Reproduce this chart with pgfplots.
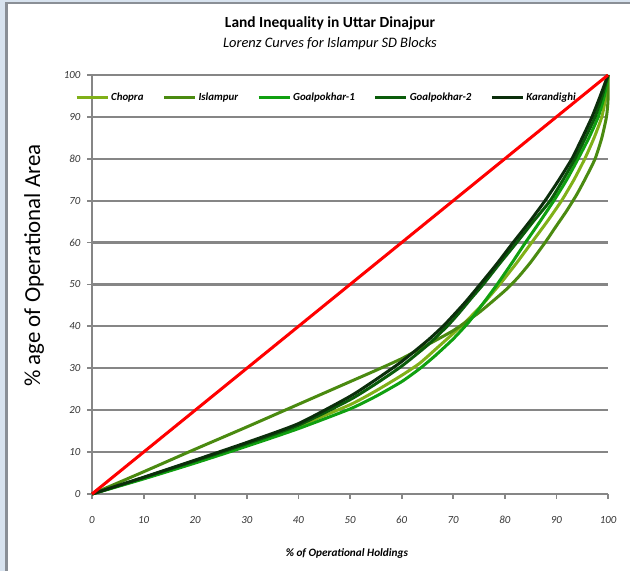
\documentclass[border=0pt]{standalone}
\usepackage{pgfplots}
\pgfplotsset{compat=1.18}
\usepackage{fontspec}
\setmainfont{Carlito}
\definecolor{cChopra}{HTML}{80B018}
\definecolor{cIslampur}{HTML}{4A8A10}
\definecolor{cGoalA}{HTML}{10A010}
\definecolor{cGoalB}{HTML}{0A5C0A}
\definecolor{cKaran}{HTML}{0B2E0B}
\definecolor{gridgray}{HTML}{868686}
\definecolor{framebl}{HTML}{D8E3EF}
\definecolor{framegray}{HTML}{8A8F96}
\begin{document}
\begin{tikzpicture}[x=1bp,y=1bp]
\path[use as bounding box] (0,0) rectangle (630,571);
\fill[framebl] (0,0) rectangle (5,571);
\fill[framebl] (0,569) rectangle (630,571);
\draw[framegray, line width=2.2bp] (6.5,0) -- (6.5,568) -- (630,568);
\node[font=\bfseries\fontsize{15.5}{17}\selectfont] at (330,548) {Land Inequality in Uttar Dinajpur};
\node[font=\itshape\fontsize{14.5}{16}\selectfont] at (330,527.5) {Lorenz Curves for Islampur SD Blocks};
\begin{axis}[
  at={(92bp,77bp)}, anchor=south west,
  scale only axis, width=516bp, height=419bp,
  xmin=0, xmax=100, ymin=0, ymax=100,
  clip=false,
  axis x line=bottom, axis y line=left,
  axis line style={-, gridgray, line width=2.4bp},
  xtick={0,10,...,100}, ytick={0,10,...,100},
  ymajorgrids,
  major grid style={gridgray, line width=2.2bp},
  tick align=outside, major tick length=5bp,
  tick style={gridgray, line width=1.8bp},
  /pgf/number format/assume math mode=true,
  ticklabel style={font=\itshape\fontsize{10.9}{12}\selectfont, text=black!80},
  xticklabel style={yshift=-14bp},
  yticklabel style={xshift=-3bp},
  xlabel={\% of Operational Holdings},
  xlabel style={font=\bfseries\itshape\fontsize{11.3}{13}\selectfont, at={(axis description cs:0.494,-0.143)}, anchor=center},
  ylabel={\% age of Operational Area},
  ylabel style={font=\fontsize{23}{26}\selectfont, at={(axis description cs:-0.112,0.545)}, anchor=center},
  legend columns=5,
  legend style={draw=none, fill=none, at={(-0.033,0.947)}, anchor=west, inner sep=0pt,
    font=\bfseries\itshape\fontsize{10.9}{12}\selectfont,
    /tikz/every even column/.append style={column sep=17bp}},
  legend image code/.code={\draw[#1, line width=3bp] (0bp,0bp) -- (31bp,0bp);},
  every axis plot/.append style={line width=3bp, line join=round, smooth, tension=0.35},
]
\addplot[cChopra] coordinates {(0,0)(10,3.8)(20,7.7)(30,11.8)(40,16.2)(50,21.3)(55,24.6)(60,28.3)(63.5,31.2)(67,35)(71.5,40)(75.5,45)(79,50)(82.2,55)(85.2,60)(88.2,65)(91,70)(93.4,75)(95.5,80)(97.3,85)(98.8,90)(99.6,95)(100,100)};
\addlegendentry{Chopra}
\addplot[cIslampur] coordinates {(0,0)(10,5.3)(20,10.7)(30,16)(40,21.4)(50,26.8)(55,29.5)(60,32.3)(65,35.6)(70,39)(75,43.3)(80,48.5)(82.5,51.6)(85,55.3)(87.8,60)(90,64)(92,67.6)(94,71.6)(95.7,75.5)(97.5,80)(98.8,85)(99.7,90)(100,94)(100,100)};
\addlegendentry{Islampur}
\addplot[cGoalA] coordinates {(0,0)(10,3.6)(20,7.4)(30,11.4)(40,15.6)(50,20.3)(55,23.3)(60,26.8)(63.6,30)(66.5,33)(70,37)(73,41)(75.8,45.5)(78.5,50)(81.3,55)(84,60)(86.8,65)(89.5,70)(92,75)(94.2,80)(96.3,85)(98.1,90)(99.3,95)(100,100)};
\addlegendentry{Goalpokhar-1}
\addplot[cGoalB] coordinates {(0,0)(10,3.9)(20,7.9)(30,12)(40,16.4)(50,22.5)(55,26.3)(60,30.5)(65,35.5)(68.8,40)(71,43)(73.5,46.7)(75.8,50)(79,55)(82.3,60)(85.5,65)(88.8,70)(91.3,75)(93.6,80)(95.6,85)(97.5,90)(98.9,95)(100,100)};
\addlegendentry{Goalpokhar-2}
\addplot[cKaran] coordinates {(0,0)(10,4)(20,8.1)(30,12.3)(40,16.8)(50,23.3)(55,27.3)(60,31.6)(65,36.6)(68,40)(70,42.6)(72.5,46)(75.2,50)(78.5,55)(81.6,60)(84.8,65)(87.8,70)(90.5,75)(93,80)(95,85)(96.9,90)(98.5,95)(100,100)};
\addlegendentry{Karandighi}
\addplot[red, forget plot] coordinates {(0,0)(100,100)};
\end{axis}
\end{tikzpicture}
\end{document}
